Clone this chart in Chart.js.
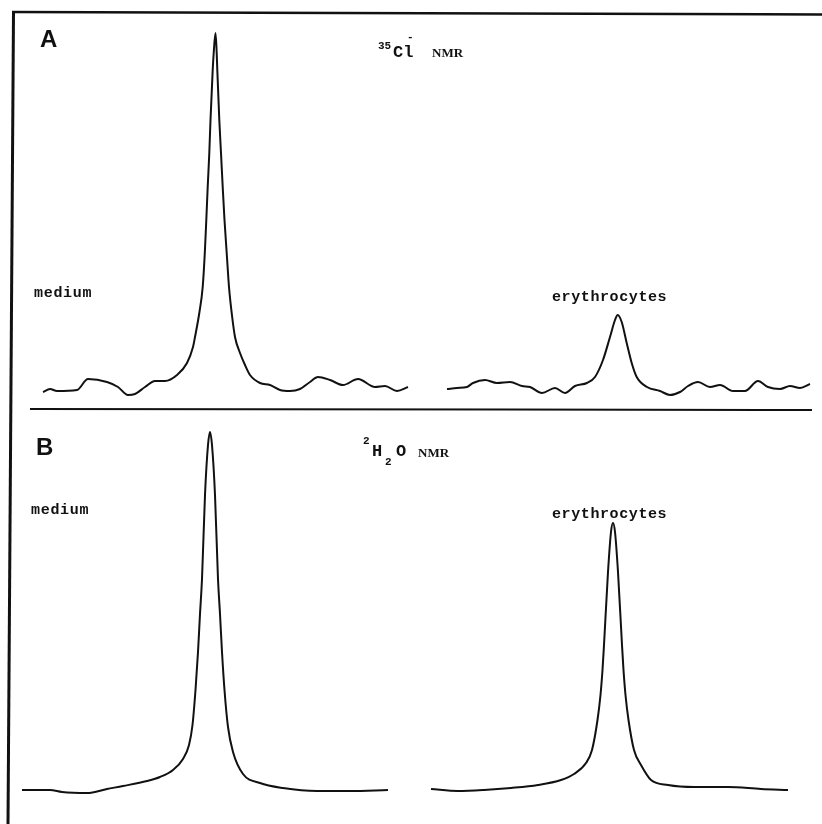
<!DOCTYPE html>
<html>
<head>
<meta charset="utf-8">
<script src="https://cdn.jsdelivr.net/npm/chart.js"></script>
<style>
  html, body { margin:0; padding:0; background:#fff; }
  #page { position:relative; width:822px; height:824px; overflow:hidden; background:#fff; }
  .box { position:absolute; }
  .t { position:absolute; white-space:nowrap; line-height:1; color:#111; }
  .panel { font-family:"Liberation Sans", Arial, sans-serif; font-weight:bold; font-size:24px; }
  .mono { font-family:"Liberation Mono", "DejaVu Sans Mono", monospace; font-weight:bold; }
  .nmr { font-family:"Liberation Serif", "DejaVu Serif", serif; font-weight:bold; font-size:13px; }
</style>
</head>
<body>
<div id="page">
  <svg width="822" height="824" style="position:absolute;left:0;top:0">
    <line x1="13.5" y1="12" x2="8" y2="824" stroke="#111" stroke-width="3"/>
    <line x1="12" y1="12" x2="822" y2="14.5" stroke="#111" stroke-width="2.5"/>
    <line x1="30" y1="409" x2="812" y2="410" stroke="#111" stroke-width="2"/>
  </svg>

  <div class="box" style="left:30px;top:20px;width:400px;height:385px"><canvas id="cAm" width="400" height="385"></canvas></div>
  <div class="box" style="left:430px;top:20px;width:392px;height:385px"><canvas id="cAe" width="392" height="385"></canvas></div>
  <div class="box" style="left:15px;top:420px;width:410px;height:385px"><canvas id="cBm" width="410" height="385"></canvas></div>
  <div class="box" style="left:425px;top:420px;width:397px;height:385px"><canvas id="cBe" width="397" height="385"></canvas></div>

  <!-- panel A labels -->
  <span class="t panel" style="left:40px;top:27px">A</span>
  <span class="t mono" style="left:378px;top:41px;font-size:11px">35</span>
  <span class="t mono" style="left:393px;top:44px;font-size:17px">Cl</span>
  <span class="t mono" style="left:407px;top:32px;font-size:11px">-</span>
  <span class="t nmr" style="left:432px;top:46px">NMR</span>
  <span class="t mono" style="left:34px;top:286px;font-size:15px;letter-spacing:0.7px">medium</span>
  <span class="t mono" style="left:552px;top:290px;font-size:15px;letter-spacing:0.6px">erythrocytes</span>

  <!-- panel B labels -->
  <span class="t panel" style="left:36px;top:435px">B</span>
  <span class="t mono" style="left:363px;top:436px;font-size:11px">2</span>
  <span class="t mono" style="left:372px;top:443px;font-size:17px">H</span>
  <span class="t mono" style="left:385px;top:457px;font-size:11px">2</span>
  <span class="t mono" style="left:396px;top:443px;font-size:17px">O</span>
  <span class="t nmr" style="left:418px;top:446px">NMR</span>
  <span class="t mono" style="left:31px;top:503px;font-size:15px;letter-spacing:0.7px">medium</span>
  <span class="t mono" style="left:552px;top:507px;font-size:15px;letter-spacing:0.6px">erythrocytes</span>
</div>

<script>
// spectra: shift relative to the line centre, intensity in arbitrary units

// A: 35Cl- NMR, medium
const clMediumShift = [-173,-166,-159,-139,-128,-109,-98,-88,-81,-71,-61,-51,-39,-29,-23,-21,-16.7,-13.3,-11.2,-9.7,-8.3,-6.7,-5.5,-3.3,-2.3,-0.5,0.7,1.3,3.3,5,6.7,8.5,10.7,13,15.7,19,24,29,34,44,54,64,74,84,94,102,114,127,142,159,169,181,192];
const clMediumInt   = [3,6,4,5,16,13,8,0,1,8,14,14,20,32,48,58,82,108,142,175,208,242,275,325,342,362,342,325,275,242,208,175,142,108,82,58,42,30,20,12,10,5,4,6,13,18,15,10,16,8,9,4,8];

// A: 35Cl- NMR, erythrocytes
const clCellShift = [-170,-160,-150,-144,-132,-120,-107,-95,-87,-75,-62,-52,-42,-30,-22,-14,-7,-2,0.7,4.7,9.7,14.7,19.7,30,43,53,63,71,81,93,103,116,128,141,151,163,173,183,193];
const clCellInt   = [6,7,8,12,15,12,13,9,8,2,7,2,9,12,18,35,58,75,80,73,52,32,18,8,4,0,3,9,13,8,10,4,4,14,8,6,9,7,11];

// B: 2H2O NMR, medium
const h2oMediumShift = [-188,-160,-148,-123,-103,-87,-63,-50,-37,-27,-21,-17.5,-14.5,-12,-10,-8,-5,-2,0,2,5,8,10,12,14.5,18,23,33,50,73,107,140,178];
const h2oMediumInt   = [5,5,3,2,6,9,14,18,25,36,50,70,105,143,181,216,300,350,363,350,300,216,181,143,105,68,43,21,12,7,4,4,5];

// B: 2H2O NMR, erythrocytes
const h2oCellShift = [-182,-155,-129,-102,-75,-52,-39,-27,-21,-15.5,-12.5,-10.5,-9,-5,-2,0,2,5,9,10.5,12.5,15.5,21,28,38,55,81,115,148,175];
const h2oCellInt   = [6,4,5,7,10,15,21,32,45,75,100,125,150,223,263,272,263,223,150,125,100,75,45,30,15,10,8,8,6,5];

function toPoints(xs, ys){
  return xs.map((x,i)=>({x:x, y:ys[i]}));
}

function drawSpectrum(id, xs, ys, xMin, xMax){
  const ctx = document.getElementById(id).getContext("2d");
  new Chart(ctx, {
    type: "line",
    data: {
      datasets: [{
        data: toPoints(xs, ys),
        borderColor: "#111",
        borderWidth: 2,
        pointRadius: 0,
        fill: false,
        cubicInterpolationMode: "monotone",
        clip: false
      }]
    },
    options: {
      responsive: false,
      animation: false,
      layout: { padding: 0 },
      plugins: { legend:{ display:false }, tooltip:{ enabled:false } },
      scales: {
        x: { type:"linear", min:xMin, max:xMax, display:false },
        y: { min:-10, max:375, display:false }
      }
    }
  });
}

drawSpectrum("cAm", clMediumShift, clMediumInt, -186, 214);
drawSpectrum("cAe", clCellShift, clCellInt, -187, 205);
drawSpectrum("cBm", h2oMediumShift, h2oMediumInt, -195, 215);
drawSpectrum("cBe", h2oCellShift, h2oCellInt, -188, 209);
</script>
</body>
</html>
